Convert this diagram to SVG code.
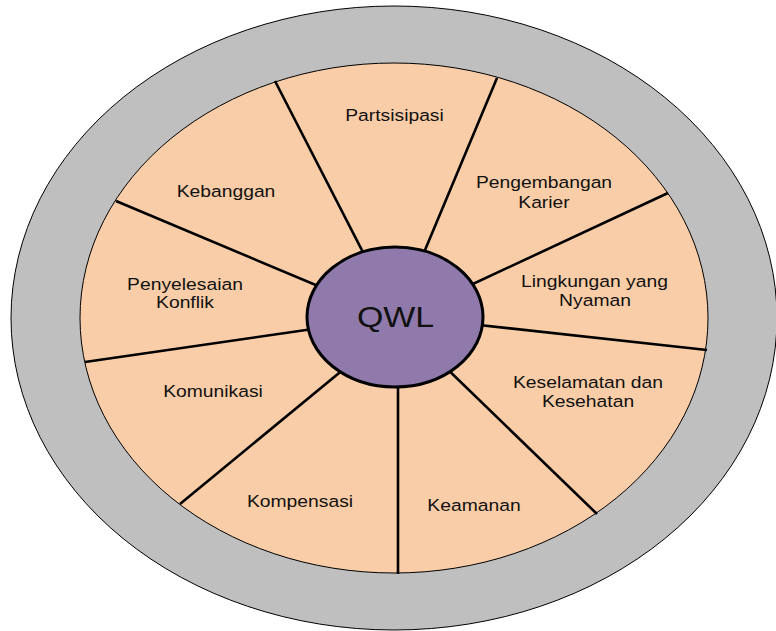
<svg xmlns="http://www.w3.org/2000/svg" width="776" height="631" viewBox="0 0 776 631">
<style>
.lbl{font-family:"Liberation Sans",Arial,sans-serif;font-size:16.5px;fill:#111;text-anchor:middle}
.big{font-family:"Liberation Sans",Arial,sans-serif;font-size:29px;fill:#111;text-anchor:middle}
.spoke{stroke:#000;stroke-width:2.6;fill:none}
</style>
<rect width="776" height="631" fill="#fff"/>
<g id="outer-ring">
<ellipse cx="394" cy="318" rx="383" ry="312" fill="#BFBFBF" stroke="#000" stroke-width="1"/>
</g>
<g id="inner-disc">
<ellipse cx="394" cy="318" rx="314" ry="255" fill="#F9CDA7" stroke="#000" stroke-width="1"/>
</g>
<g id="connectors">
<line class="spoke" x1="275" y1="81" x2="368" y2="262"/>
<line class="spoke" x1="497" y1="78" x2="420" y2="262"/>
<line class="spoke" x1="668" y1="193" x2="460" y2="290"/>
<line class="spoke" x1="707" y1="350" x2="470" y2="324"/>
<line class="spoke" x1="597" y1="514" x2="440" y2="362"/>
<line class="spoke" x1="398" y1="574" x2="398" y2="380"/>
<line class="spoke" x1="180" y1="504" x2="350" y2="364"/>
<line class="spoke" x1="85" y1="362" x2="320" y2="328"/>
<line class="spoke" x1="116" y1="201" x2="330" y2="291"/>
</g>
<g id="node-partsisipasi"><text class="lbl" transform="translate(394.5,121) scale(1.17,1)">Partsisipasi</text></g>
<g id="node-kebanggan"><text class="lbl" transform="translate(226,197) scale(1.17,1)">Kebanggan</text></g>
<g id="node-penyelesaian-konflik">
<text class="lbl" transform="translate(185,290) scale(1.17,1)">Penyelesaian</text>
<text class="lbl" transform="translate(185,308) scale(1.17,1)">Konflik</text>
</g>
<g id="node-pengembangan-karier">
<text class="lbl" transform="translate(544,188) scale(1.17,1)">Pengembangan</text>
<text class="lbl" transform="translate(544,208) scale(1.17,1)">Karier</text>
</g>
<g id="node-lingkungan">
<text class="lbl" transform="translate(594.5,287) scale(1.17,1)">Lingkungan yang</text>
<text class="lbl" transform="translate(595,306) scale(1.17,1)">Nyaman</text>
</g>
<g id="node-komunikasi"><text class="lbl" transform="translate(213,397) scale(1.17,1)">Komunikasi</text></g>
<g id="node-kompensasi"><text class="lbl" transform="translate(300,507) scale(1.17,1)">Kompensasi</text></g>
<g id="node-keselamatan">
<text class="lbl" transform="translate(588,388) scale(1.17,1)">Keselamatan dan</text>
<text class="lbl" transform="translate(588,407) scale(1.17,1)">Kesehatan</text>
</g>
<g id="node-keamanan"><text class="lbl" transform="translate(474,511) scale(1.17,1)">Keamanan</text></g>
<g id="node-qwl">
<ellipse cx="395" cy="317" rx="88" ry="70" fill="#8F7AAB" stroke="#000" stroke-width="3"/>
<text class="big" transform="translate(395.5,327) scale(1.17,1)">QWL</text>
</g>
</svg>
